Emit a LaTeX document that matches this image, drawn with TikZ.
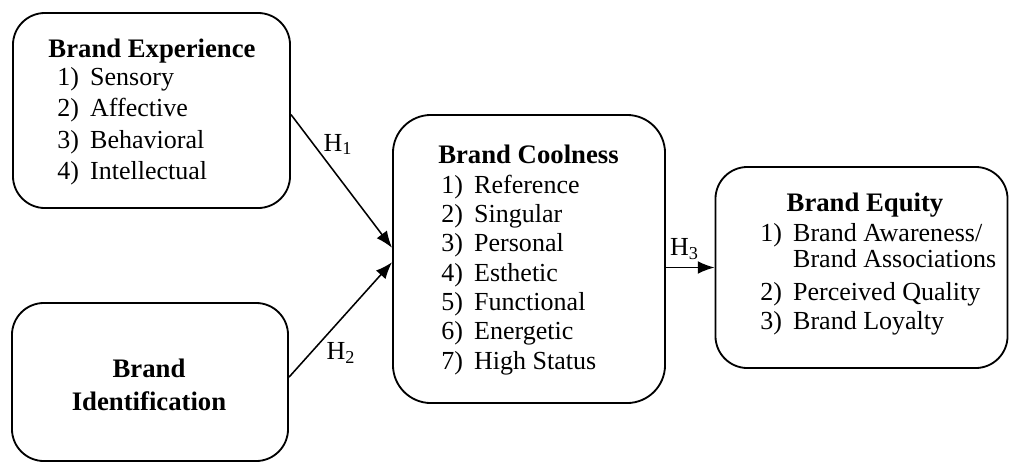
\documentclass[tikz,border=0pt]{standalone}
\usepackage{fontspec}
\setmainfont{Liberation Serif}
\usetikzlibrary{arrows.meta,positioning}

\begin{document}
\begin{tikzpicture}[x=0.025cm,y=-0.025cm,>={Latex[length=0.42cm,width=0.32cm]},
  box/.style={draw,line width=1.3pt,rounded corners=0.8cm,inner sep=0pt},
  head/.style={font=\fontsize{19}{23}\selectfont\bfseries,inner sep=0pt,anchor=base},
  items/.style={font=\fontsize{18.5}{22.4}\selectfont,inner sep=0pt,anchor=base west},
  link/.style={->,line width=1.1pt},
  hyp/.style={font=\fontsize{18.5}{21}\selectfont,inner sep=2pt}]
  \useasboundingbox (0,0) rectangle (1011,463);

  % boxes
  \node[box,minimum width=6.925cm,minimum height=4.875cm] (exp) at (151.5,110.5) {};
  \node[box,minimum width=6.9cm,minimum height=3.95cm] (iden) at (150,382) {};
  \node[box,minimum width=6.8cm,minimum height=7.2cm,rounded corners=0.95cm] (cool) at (529,259) {};
  \node[box,minimum width=7.3cm,minimum height=5.025cm] (eq) at (861.5,267.5) {};

  % texts
  \node[head] (expT) at (152,57) {Brand Experience};
  \node[items] (expL) at (57,85) {\begin{tabular}[t]{@{}l@{\hspace{8pt}}l@{}}
    1) & Sensory\\ 2) & Affective\\ 3) & Behavioral\\ 4) & Intellectual\end{tabular}};

  \node[head,anchor=center,align=center] (idenT) at (149,385) {Brand\\Identification};

  \node[head] (coolT) at (528.5,163) {Brand Coolness};
  \node[items,font=\fontsize{18.5}{20.9}\selectfont] (coolL) at (441,193) {\begin{tabular}[t]{@{}l@{\hspace{8pt}}l@{}}
    1) & Reference\\ 2) & Singular\\ 3) & Personal\\ 4) & Esthetic\\
    5) & Functional\\ 6) & Energetic\\ 7) & High Status\end{tabular}};

  \node[head] (eqT) at (865,211) {Brand Equity};
  \node[items,font=\fontsize{18.5}{21}\selectfont] (eqL) at (760,241) {\begin{tabular}[t]{@{}l@{\hspace{8pt}}l@{}}
    1) & Brand Awareness/\\[-2pt] & Brand Associations\\[2pt]
    2) & Perceived Quality\\ 3) & Brand Loyalty\end{tabular}};

  % hypotheses
  \draw[link] ([yshift=-0.1cm]exp.east) -- node[hyp,pos=0.33,above right,xshift=-3pt] {H\textsubscript{1}} ([yshift=0.28cm]cool.west);
  \draw[link] ([yshift=0.12cm]iden.east) -- node[hyp,pos=0.33,below right] {H\textsubscript{2}} ([yshift=-0.08cm]cool.west);
  \draw[link] (cool.east |- eq.west) -- node[hyp,pos=0.38,above,yshift=3pt] {H\textsubscript{3}} (eq.west);
\end{tikzpicture}
\end{document}
